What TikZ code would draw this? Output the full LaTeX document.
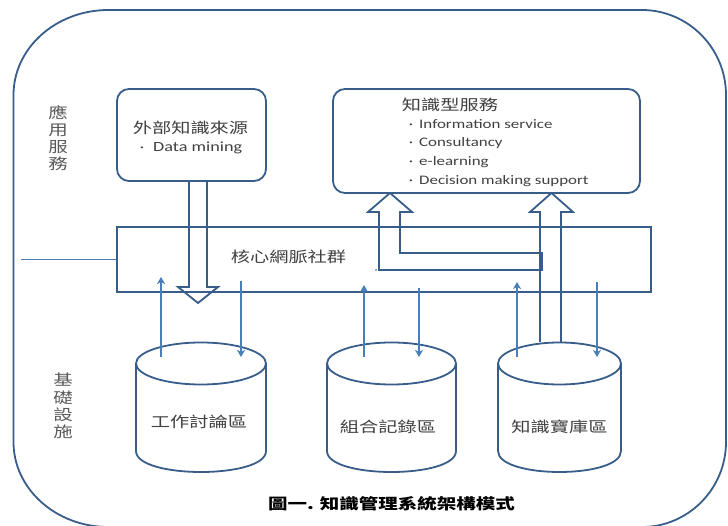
\documentclass[tikz,border=0pt]{standalone}
\usepackage{fontspec}
\usetikzlibrary{arrows.meta}
\newfontfamily\cjk[FakeStretch=1.3]{Noto Sans CJK TC}
\newfontfamily\lat[FakeStretch=1.3]{Carlito}
\definecolor{bord}{HTML}{385D8A}
\definecolor{thinblue}{HTML}{4A7EBB}
\definecolor{txt}{HTML}{404040}
\definecolor{lbl}{HTML}{595959}
\begin{document}
\begin{tikzpicture}[x=1pt,y=-1pt,
  bline/.style={draw=bord,line width=1.8pt},
  rbox/.style={bline,rounded corners=12pt,inner sep=0pt},
  thinarrow/.style={draw=thinblue,line width=1.6pt,-{Stealth[length=7pt,width=8pt,inset=2pt]}},
  zh/.style={font=\cjk\fontsize{14.8}{16}\selectfont,text=txt,inner sep=0pt,anchor=base},
  en/.style={font=\lat\fontsize{13}{15}\selectfont,text=txt,inner sep=0pt,anchor=base west},
  bul/.style={font=\lat\fontsize{13}{15}\selectfont,text=txt,inner sep=0pt,anchor=base},
  vlabel/.style={font=\cjk\fontsize{15}{17.2}\selectfont,text=lbl,inner sep=0pt,align=center}
]
\useasboundingbox (0,0) rectangle (728,526);

% outer frame
\draw[bline] (13.5,95) .. controls (13.5,48) and (56,10) .. (108.5,10)
  -- (642,10) .. controls (688,10) and (726,48) .. (726,95)
  -- (726,442) .. controls (726,489) and (688,527) .. (642,527)
  -- (108.5,527) .. controls (56,527) and (13.5,489) .. (13.5,442) -- cycle;

% side labels
\node[vlabel] (app) at (58,138) {應\\用\\服\\務};
\node[vlabel] (infra) at (63,406) {基\\礎\\設\\施};

% boxes
\node[rbox,minimum width=149pt,minimum height=92pt] (src) at (191.5,135) {};
\node[rbox,minimum width=307pt,minimum height=104pt] (svc) at (486.5,141) {};
\node[bline,minimum width=534pt,minimum height=65pt,inner sep=0pt] (core) at (384,259.5) {};

% box texts
\node[zh] (srct) at (190.5,133.5) {外部知識來源};
\node[bul] (srcb) at (142,151.5) {·};
\node[en,font=\lat\fontsize{14}{15}\selectfont] (srcl) at (153,151.5) {Data mining};

\node[zh] (svct) at (450,110.5) {知識型服務};
\node[bul] (b1) at (411,128.5) {·};
\node[en] (l1) at (419,128.5) {Information service};
\node[bul] (b2) at (411,146.5) {·};
\node[en] (l2) at (419,146.5) {Consultancy};
\node[bul] (b3) at (411,165.5) {·};
\node[en] (l3) at (419,165.5) {e-learning};
\node[bul] (b4) at (411,184.5) {·};
\node[en] (l4) at (419,184.5) {Decision making support};

\node[zh] (coret) at (288.5,262.5) {核心網脈社群};

% left thin line
\coordinate (lft) at (21,259.5);
\draw[draw=thinblue,line width=0.9pt] (lft) -- (core.west);

% cylinders
\foreach \cx/\rx in {201/65, 391.5/64.5, 559.5/61.5} {
  \draw[bline,fill=white] (\cx-\rx,363.5) -- (\cx-\rx,451)
     .. controls (\cx-\rx,479) and (\cx+\rx,479) .. (\cx+\rx,451) -- (\cx+\rx,363.5);
  \draw[bline] (\cx,363.5) ellipse [x radius=\rx, y radius=21];
}
\node[zh] (c1) at (199,427.5) {工作討論區};
\node[zh] (c2) at (388,432.5) {組合記錄區};
\node[zh] (c3) at (559.5,432.5) {知識寶庫區};

% hollow arrows
\draw[bline,line join=miter] (189,181) -- (189,287) -- (178,287) -- (198,303) -- (218,287) -- (207,287) -- (207,181);
\draw[bline,line join=miter] (379,270) -- (379,212) -- (368,212) -- (390,193) -- (412,212) -- (400,212)
   -- (400,253) -- (542,253) -- (542,270) -- cycle;
\draw[bline,line join=miter] (540,342) -- (540,212) -- (530,212) -- (551.5,193) -- (573,212) -- (561,212) -- (561,342);
\fill[bord] (376,270) circle (0.9pt);

% thin arrows
\coordinate (a1s) at (161,357); \coordinate (a1e) at (161,277);
\coordinate (a2s) at (241,281); \coordinate (a2e) at (241,357);
\coordinate (a3s) at (364,357); \coordinate (a3e) at (364,285);
\coordinate (a4s) at (419,288); \coordinate (a4e) at (419,357);
\coordinate (a5s) at (517,357); \coordinate (a5e) at (517,282);
\coordinate (a6s) at (597,282); \coordinate (a6e) at (597,357);
\draw[thinarrow] (a1s) -- (a1e);
\draw[thinarrow] (a2s) -- (a2e);
\draw[thinarrow] (a3s) -- (a3e);
\draw[thinarrow] (a4s) -- (a4e);
\draw[thinarrow] (a5s) -- (a5e);
\draw[thinarrow] (a6s) -- (a6e);

% caption
\node[font=\cjk\bfseries\fontsize{15}{16}\selectfont,text=black,inner sep=0pt,anchor=base] (cap) at (391.5,509.5) {圖一. 知識管理系統架構模式};
\end{tikzpicture}
\end{document}
